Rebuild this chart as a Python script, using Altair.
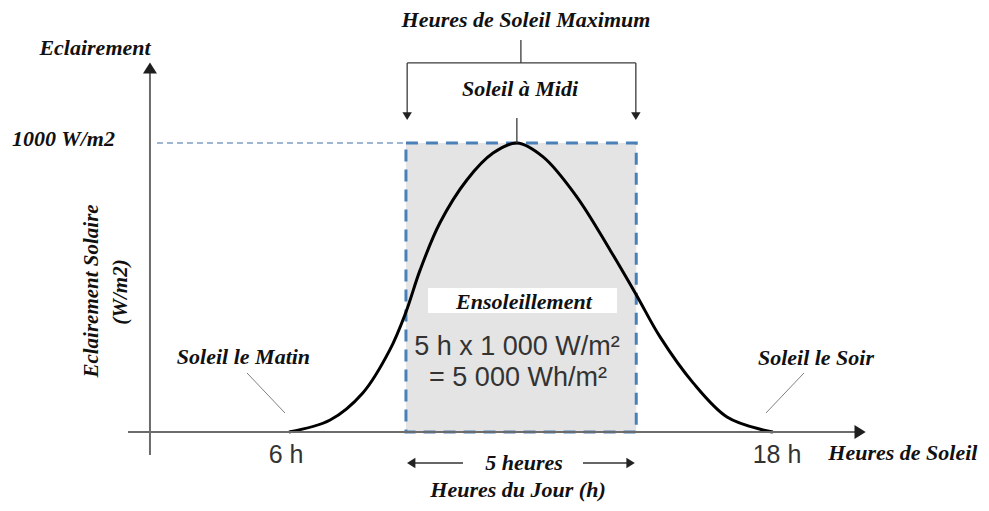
import altair as alt
import pandas as pd

# ---- data ----
hours = [6.0, 7.02, 7.83, 8.50, 8.90, 9.25, 9.74, 10.41, 11.06, 11.65,
         12.30, 13.14, 13.96, 14.61, 15.20, 16.02, 16.86, 17.75, 18.0]
irradiance = [0, 41.5, 135, 284, 415, 560, 723, 872, 965, 1000,
              952, 813, 630, 475, 329, 170, 52, 7, 0]

peak_hour = 11.65
peak_value = 1000
window_start = 8.90
window_end = 14.61

# ---- layout (data units: hours / W/m2) ----
XA, XB = -0.967, 23.158
YA, YB = -245.7, 1467.1
W, H = 973, 495

xs = alt.Scale(domain=[XA, XB], nice=False, zero=False)
ys = alt.Scale(domain=[YA, YB], nice=False, zero=False)

SERIF = "Liberation Serif"
SANS = "Liberation Sans"


def enc(ch, x2=False, y2=False):
    e = dict(x=alt.X("x:Q", scale=xs, axis=None), y=alt.Y("y:Q", scale=ys, axis=None))
    if x2:
        e["x2"] = alt.X2("x2:Q")
    if y2:
        e["y2"] = alt.Y2("y2:Q")
    return ch.encode(**e)


def segs(rows, **style):
    df = pd.DataFrame(rows, columns=["x", "y", "x2", "y2"])
    return enc(alt.Chart(df).mark_rule(**style), x2=True, y2=True)


def tri(rows, path, size, color):
    df = pd.DataFrame(rows, columns=["x", "y"])
    return enc(alt.Chart(df).mark_point(shape=path, size=size, filled=True,
                                        color=color, opacity=1, strokeWidth=0))


def txt(rows, **style):
    df = pd.DataFrame(rows, columns=["x", "y", "t"])
    return alt.Chart(df).mark_text(baseline="middle", **style).encode(
        x=alt.X("x:Q", scale=xs, axis=None),
        y=alt.Y("y:Q", scale=ys, axis=None),
        text="t:N")


# gray window with dashed blue border
window = enc(alt.Chart(pd.DataFrame({"x": [window_start], "x2": [window_end],
                                     "y": [0], "y2": [peak_value]}))
             .mark_rect(fill="#e4e4e4", stroke="#4a80b8", strokeWidth=3,
                        strokeDash=[12, 8]), x2=True, y2=True)

white_box = enc(alt.Chart(pd.DataFrame({"x": [9.446], "x2": [14.132],
                                        "y": [411.8], "y2": [498.3]}))
                .mark_rect(fill="white"), x2=True, y2=True)

ref_line = segs([[2.727, peak_value, window_start, peak_value]],
                color="#7f9fc4", strokeWidth=1.3, strokeDash=[6, 4])

curve = alt.Chart(pd.DataFrame({"x": hours, "y": irradiance})).mark_line(
    color="black", strokeWidth=3, interpolate="catmull-rom").encode(
    x=alt.X("x:Q", scale=xs, axis=None), y=alt.Y("y:Q", scale=ys, axis=None))

axes = segs([[2.553, -79.6, 2.553, 1255.0],
             [2.008, 0, 20.10, 0]], color="#6b6b6b", strokeWidth=2)

axis_heads = (tri([[2.553, 1259.5]], "M-1,0.8L0,-0.8L1,0.8Z", 196, "#1e1e1e")
              + tri([[20.16, 0]], "M-0.8,-1L0.8,0L-0.8,1Z", 196, "#1e1e1e"))

bracket = segs([[11.75, 1356, 11.75, 1277],
                [8.93, 1277, 14.60, 1277],
                [8.93, 1277, 8.93, 1100],
                [14.60, 1277, 14.60, 1100],
                [peak_hour, peak_value, peak_hour, 1086.5]],
               color="#3a3a3a", strokeWidth=1.3)
bracket_heads = tri([[8.93, 1093], [14.60, 1093]], "M-1,-0.8L1,-0.8L0,0.8Z", 90, "#222222")

leaders = segs([[4.959, 204.2, 5.901, 65.7],
                [18.769, 204.2, 17.827, 65.7]], color="#808080", strokeWidth=1)

span_arrows = segs([[9.05, -107.3, 10.314, -107.3],
                    [13.289, -107.3, 14.45, -107.3]], color="#333333", strokeWidth=1.6)
span_heads = (tri([[9.03, -107.3]], "M0.8,-1L-0.8,0L0.8,1Z", 110, "#222222")
              + tri([[14.47, -107.3]], "M-0.8,-1L0.8,0L-0.8,1Z", 110, "#222222"))

serif = dict(font=SERIF, fontStyle="italic", fontWeight="bold", color="#111111")
labels = txt([[11.876, 1425, "Heures de Soleil Maximum"],
              [11.727, 1186.8, "Soleil à Midi"],
              [1.19, 1328.7, "Eclairement"],
              [0.409, 1013.8, "1000 W/m2"],
              [4.872, 259.5, "Soleil le Matin"],
              [19.066, 256, "Soleil le Soir"],
              [21.22, -72.7, "Heures de Soleil"],
              [11.826, 449.8, "Ensoleillement"],
              [11.826, -107.3, "5 heures"],
              [11.678, -202, "Heures du Jour (h)"]],
             fontSize=22, align="center", **serif)

ytitle = txt([[1.116, 487.9, "Eclairement Solaire"],
              [1.835, 484.4, "(W/m2)"]],
             fontSize=21, align="center", angle=270, **serif)

sans_ticks = txt([[5.926, -79.6, "6 h"], [18.099, -79.6, "18 h"]],
                 font=SANS, fontSize=25, align="center", color="#333333")

formula = txt([[11.653, 294.1, "5 h x 1 000 W/m²"],
               [11.678, 186.9, "= 5 000 Wh/m²"]],
              font=SANS, fontSize=27, align="center", color="#333333")

chart = alt.layer(window, white_box, ref_line, curve, axes, axis_heads,
                  bracket, bracket_heads, leaders, span_arrows, span_heads,
                  labels, ytitle, sans_ticks, formula).properties(
    width=W, height=H, autosize=alt.AutoSizeParams(type="none"),
    padding=0, background="white"
).configure_view(stroke=None)

chart.save("out.html", embed_options={"renderer": "svg", "actions": False})
